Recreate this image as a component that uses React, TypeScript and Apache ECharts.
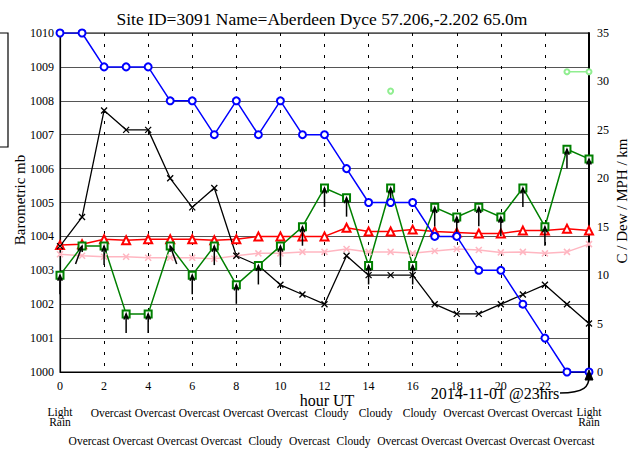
import React, { useEffect, useRef } from "react";
import * as echarts from "echarts";

const hours = [0, 1, 2, 3, 4, 5, 6, 7, 8, 9, 10, 11, 12, 13, 14, 15, 16, 17, 18, 19, 20, 21, 22, 23, 24];
const pressure = [1010, 1010, 1009, 1009, 1009, 1008, 1008, 1007, 1008, 1007, 1008, 1007, 1007, 1006, 1005, 1005, 1005, 1004, 1004, 1003, 1003, 1002, 1001, 1000, 1000];
const blackSeries = [13, 16, 27, 25, 25, 20, 17, 19, 12, 11, 9, 8, 7, 12, 10, 10, 10, 7, 6, 6, 7, 8, 9, 7, 5];
const tempC = [13.1, 13.2, 13.7, 13.6, 13.7, 13.7, 13.7, 13.6, 13.7, 14.0, 14.0, 14.0, 14.0, 14.9, 14.5, 14.5, 14.7, 14.5, 14.4, 14.3, 14.3, 14.6, 14.6, 14.8, 14.6];
const dewC = [12.15, 12.0, 11.9, 11.9, 11.8, 11.8, 11.8, 11.7, 12.0, 12.25, 12.25, 12.4, 12.4, 12.7, 12.4, 12.4, 12.25, 12.5, 12.7, 12.6, 12.35, 12.4, 12.25, 12.4, 13.2];
const windMph = [10, 13, 13, 6, 6, 13, 10, 13, 9, 11, 13, 15, 19, 18, 11, 19, 11, 17, 16, 17, 16, 19, 15, 23, 22];
const gustMph = [null, null, null, null, null, null, null, null, null, null, null, null, null, null, null, 29, null, null, null, null, null, null, null, 31, 31];
const arrowAngle = [0, 20, 0, 0, 0, -20, 0, 0, 0, 0, 0, 0, 0, 0, 0, 0, 0, 0, 0, 0, 0, 0, 0, 0, 0];
const weather = [
  "Light\nRain", "Overcast", "Overcast", "Overcast", "Overcast", "Overcast", "Overcast", "Overcast", "Overcast", "Cloudy",
  "Overcast", "Overcast", "Cloudy", "Cloudy", "Cloudy", "Overcast", "Cloudy", "Overcast", "Overcast", "Overcast",
  "Overcast", "Overcast", "Overcast", "Overcast", "Light\nRain",
];
const xTickLabels = ["0", "2", "4", "6", "8", "10", "12", "14", "16", "18", "20", "22", ""];

const FONT = "Liberation Serif";
const XSYM = "path://M0,0L10,10M10,0L0,10";

export default function App() {
  const ref = useRef<HTMLDivElement>(null);
  useEffect(() => {
    if (!ref.current) return;
    const chart = echarts.init(ref.current, null, { renderer: "svg" });
    const pair = (arr: (number | null)[]) => hours.map((h, i) => [h, arr[i]]);
    const arrowData = hours.map((h, i) => [h, windMph[i], arrowAngle[i]]);
    const baseGraphic: any[] = [
      { type: "rect", shape: { x: -20, y: 33, width: 28, height: 114 }, style: { fill: "none", stroke: "#000", lineWidth: 1.2 } },
      {
        type: "text",
        x: 20,
        y: 200,
        rotation: Math.PI / 2,
        style: { text: "Barometric mb", fontFamily: FONT, fontSize: 15, fill: "#000", align: "center", verticalAlign: "middle" },
      },
      {
        type: "text",
        x: 622,
        y: 201,
        rotation: Math.PI / 2,
        style: { text: "C / Dew / MPH / km", fontFamily: FONT, fontSize: 15, fill: "#000", align: "center", verticalAlign: "middle" },
      },
      {
        type: "text",
        x: 327,
        y: 400,
        style: { text: "hour UT", fontFamily: FONT, fontSize: 16, fill: "#000", align: "center", verticalAlign: "middle" },
      },
      {
        type: "text",
        x: 495,
        y: 393,
        z: 10,
        style: { text: "2014-11-01 @23hrs", fontFamily: FONT, fontSize: 16, fill: "#000", align: "center", verticalAlign: "middle" },
      },
      {
        type: "bezierCurve",
        z: 10,
        shape: { x1: 560, y1: 393, cpx1: 585, cpy1: 393, cpx2: 589, cpy2: 386, x2: 589, y2: 377 },
        style: { stroke: "#000", lineWidth: 1.5, fill: null },
      },
      {
        type: "polygon",
        z: 10,
        shape: { points: [[589, 370], [585, 380], [593, 380]] },
        style: { fill: "#000", stroke: "#000" },
      },
    ];
    chart.setOption({
      animation: false,
      backgroundColor: "#fff",
      title: {
        text: "Site ID=3091 Name=Aberdeen Dyce 57.206,-2.202 65.0m",
        left: "center",
        top: 5,
        textStyle: { fontFamily: FONT, fontSize: 17.5, fontWeight: "normal", color: "#000" },
      },
      grid: { left: 60, top: 33, width: 529, height: 339, show: true, borderColor: "#000", borderWidth: 1, backgroundColor: "transparent" },
      xAxis: [
        {
          type: "value",
          min: 0,
          max: 24,
          interval: 2,
          position: "bottom",
          axisLine: { show: true, lineStyle: { color: "#000", width: 1.2 } },
          axisTick: { show: false },
          axisLabel: {
            margin: 8,
            fontFamily: FONT,
            fontSize: 12,
            color: "#000",
            formatter: (v: number) => xTickLabels[v / 2] ?? "",
          },
          splitLine: { show: true, lineStyle: { color: "#000", width: 1, type: [3, 8] } },
        },
      ],
      yAxis: [
        {
          type: "value",
          min: 1000,
          max: 1010,
          interval: 1,
          position: "left",
          axisLine: { show: true, lineStyle: { color: "#000", width: 1.2 } },
          axisTick: { show: false },
          axisLabel: { margin: 6, fontFamily: FONT, fontSize: 12, color: "#000", formatter: (v: number) => String(v) },
          splitLine: { show: true, lineStyle: { color: "#555", width: 1.2 } },
        },
        {
          type: "value",
          min: 0,
          max: 35,
          interval: 5,
          position: "right",
          axisLine: { show: true, lineStyle: { color: "#000", width: 2 } },
          axisTick: { show: false },
          axisLabel: { margin: 8, fontFamily: FONT, fontSize: 12, color: "#000", formatter: (v: number) => String(v) },
          splitLine: { show: false },
        },
      ],
      series: [
        {
          type: "line",
          name: "gust",
          xAxisIndex: 0,
          yAxisIndex: 1,
          data: pair(gustMph),
          connectNulls: false,
          symbol: "emptyCircle",
          symbolSize: 5,
          lineStyle: { color: "#90ee90", width: 1.5 },
          itemStyle: { color: "#90ee90", borderColor: "#90ee90", borderWidth: 1.3 },
        },
        {
          type: "line",
          name: "dew",
          xAxisIndex: 0,
          yAxisIndex: 1,
          data: pair(dewC),
          symbol: XSYM,
          symbolSize: 6,
          lineStyle: { color: "#ffb6c1", width: 1.5 },
          itemStyle: { color: "#ffb6c1", borderColor: "#ffb6c1", borderWidth: 1.5 },
        },
        {
          type: "line",
          name: "temp",
          xAxisIndex: 0,
          yAxisIndex: 1,
          data: pair(tempC),
          symbol: "emptyTriangle",
          symbolSize: 8,
          lineStyle: { color: "#ff0000", width: 1.5 },
          itemStyle: { color: "#ff0000", borderColor: "#ff0000", borderWidth: 1.3 },
        },
        {
          type: "line",
          name: "black",
          xAxisIndex: 0,
          yAxisIndex: 1,
          data: pair(blackSeries),
          symbol: XSYM,
          symbolSize: 6,
          lineStyle: { color: "#000", width: 1.3 },
          itemStyle: { color: "#000", borderColor: "#000", borderWidth: 1.3 },
        },
        {
          type: "line",
          name: "wind",
          xAxisIndex: 0,
          yAxisIndex: 1,
          data: pair(windMph),
          symbol: "emptyRect",
          symbolSize: 7,
          lineStyle: { color: "#008000", width: 1.5 },
          itemStyle: { color: "#008000", borderColor: "#008000", borderWidth: 1.3 },
        },
        {
          type: "custom",
          name: "arrows",
          coordinateSystem: "cartesian2d",
          xAxisIndex: 0,
          yAxisIndex: 1,
          encode: { x: 0, y: 1 },
          data: arrowData,
          z: 5,
          renderItem: (params: any, api: any) => {
            const p = api.coord([api.value(0), api.value(1)]);
            const a = (api.value(2) * Math.PI) / 180;
            const L = 19;
            const hl = 6;
            const sp = 0.38;
            const tx = p[0] - L * Math.sin(a);
            const ty = p[1] + L * Math.cos(a);
            const b1 = [p[0] - hl * Math.sin(a - sp), p[1] + hl * Math.cos(a - sp)];
            const b2 = [p[0] - hl * Math.sin(a + sp), p[1] + hl * Math.cos(a + sp)];
            return {
              type: "group",
              children: [
                { type: "line", shape: { x1: tx, y1: ty, x2: p[0], y2: p[1] }, style: { stroke: "#000", lineWidth: 1.5 } },
                { type: "polyline", shape: { points: [b1, p, b2] }, style: { stroke: "#000", lineWidth: 1.5, fill: null } },
              ],
            };
          },
        },
        {
          type: "line",
          name: "pressure",
          xAxisIndex: 0,
          yAxisIndex: 0,
          data: pair(pressure),
          symbol: "emptyCircle",
          symbolSize: 7,
          z: 6,
          lineStyle: { color: "#0000ff", width: 1.5 },
          itemStyle: { color: "#0000ff", borderColor: "#0000ff", borderWidth: 1.5 },
        },
      ],
      graphic: baseGraphic,
    });
    // weather labels placed at each hour's pixel position via the x axis scale
    const weatherGraphic = weather.map((w, i) => {
      const px = chart.convertToPixel({ xAxisIndex: 0 }, hours[i]) as number;
      const multi = w.indexOf("\n") >= 0;
      const even = i % 2 === 0;
      return {
        type: "text",
        x: px + (multi ? 0 : 7),
        y: even ? (multi ? 407 : 413) : 441,
        style: {
          text: w,
          fontFamily: FONT,
          fontSize: 11.5,
          lineHeight: 10,
          fill: "#000",
          align: "center",
          verticalAlign: multi ? "top" : "middle",
        },
      };
    });
    chart.setOption({ graphic: [...baseGraphic, ...weatherGraphic] });
    return () => chart.dispose();
  }, []);
  return <div ref={ref} style={{ position: "fixed", left: 0, top: 0, width: 644, height: 450 }} />;
}
